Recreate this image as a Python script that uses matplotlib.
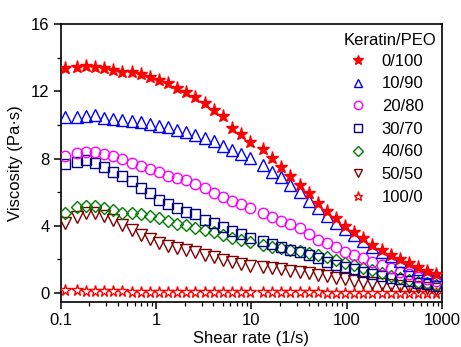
import matplotlib
matplotlib.use("Agg")
import matplotlib.pyplot as plt
from matplotlib.ticker import LogLocator, NullFormatter, MultipleLocator

plt.rcParams["font.family"] = ["Liberation Sans", "DejaVu Sans"]
plt.rcParams["font.size"] = 12

# shear rate (1/s)
shear_rate = [0.11, 0.147, 0.184, 0.229, 0.286, 0.356, 0.443, 0.553, 0.689, 0.86,
              1.07, 1.34, 1.66, 2.07, 2.59, 3.23, 4.02, 5.01, 6.24, 7.8, 9.71,
              13.3, 16.6, 20.7, 25.7, 32.1, 40.0, 49.8, 62.0, 77.3, 96.3,
              120, 150, 186, 232, 289, 361, 449, 560, 698, 869]

visc_0_100 = [13.37, 13.47, 13.51, 13.45, 13.37, 13.27, 13.17, 13.15, 13.04, 12.84,
              12.68, 12.48, 12.22, 11.98, 11.64, 11.31, 10.89, 10.51, 9.80, 9.45, 8.99,
              8.56, 8.05, 7.52, 6.99, 6.43, 5.93, 5.38, 4.90, 4.45, 4.01,
              3.61, 3.26, 2.86, 2.56, 2.26, 2.02, 1.77, 1.53, 1.33, 1.13]
visc_10_90 = [10.46, 10.49, 10.54, 10.56, 10.40, 10.34, 10.30, 10.26, 10.16, 10.06,
              9.94, 9.90, 9.70, 9.60, 9.40, 9.24, 9.07, 8.77, 8.51, 8.26, 8.02,
              7.62, 7.22, 6.92, 6.43, 6.03, 5.48, 5.04, 4.58, 4.15, 3.80,
              3.45, 3.10, 2.75, 2.45, 2.18, 1.93, 1.68, 1.45, 1.25, 1.05]
visc_20_80 = [8.15, 8.35, 8.41, 8.39, 8.27, 8.15, 7.96, 7.76, 7.58, 7.36,
              7.18, 6.98, 6.86, 6.73, 6.49, 6.23, 5.97, 5.73, 5.49, 5.28, 5.08,
              4.78, 4.54, 4.30, 4.09, 3.85, 3.50, 3.15, 2.96, 2.72, 2.46,
              2.26, 2.07, 1.86, 1.67, 1.47, 1.27, 1.11, 0.97, 0.83, 0.71]
visc_30_70 = [7.66, 7.78, 7.92, 7.72, 7.52, 7.22, 6.98, 6.67, 6.23, 5.93,
              5.54, 5.28, 5.04, 4.84, 4.68, 4.35, 4.15, 3.91, 3.71, 3.49, 3.29,
              3.11, 2.92, 2.76, 2.56, 2.45, 2.24, 2.07, 1.86, 1.67, 1.53,
              1.41, 1.27, 1.13, 1.01, 0.91, 0.82, 0.71, 0.61, 0.54, 0.43]
visc_40_60 = [4.78, 5.10, 5.20, 5.18, 5.04, 4.94, 4.78, 4.74, 4.68, 4.60,
              4.45, 4.29, 4.11, 4.05, 3.85, 3.75, 3.65, 3.45, 3.26, 3.15, 3.05,
              2.86, 2.72, 2.66, 2.56, 2.50, 2.41, 2.26, 2.13, 1.96, 1.80,
              1.67, 1.51, 1.37, 1.17, 1.04, 0.92, 0.80, 0.68, 0.57, 0.48]
visc_50_50 = [4.15, 4.54, 4.74, 4.78, 4.58, 4.35, 4.05, 3.75, 3.45, 3.20,
              2.99, 2.80, 2.70, 2.58, 2.46, 2.26, 2.13, 1.96, 1.83, 1.73, 1.63,
              1.57, 1.47, 1.41, 1.31, 1.27, 1.17, 1.10, 1.01, 0.91, 0.83,
              0.74, 0.67, 0.60, 0.54, 0.48, 0.43, 0.38, 0.34, 0.30, 0.26]
visc_100_0 = [0.16, 0.20, 0.15, 0.12, 0.11, 0.10, 0.10, 0.09, 0.09, 0.08,
              0.08, 0.08, 0.07, 0.07, 0.07, 0.06, 0.06, 0.06, 0.06, 0.05, 0.05,
              0.05, 0.05, 0.04, 0.04, 0.04, 0.04, 0.04, 0.03, 0.03, 0.03,
              0.03, 0.03, 0.02, 0.02, 0.02, 0.02, 0.02, 0.02, 0.02, 0.02]

labels = ["0/100", "10/90", "20/80", "30/70", "40/60", "50/50", "100/0"]
series = [visc_0_100, visc_10_90, visc_20_80, visc_30_70, visc_40_60, visc_50_50, visc_100_0]
# (marker, colour, filled, size)
styles = [("*", "#ff0000", True, 9.5),
          ("^", "#0000ff", False, 8),
          ("o", "#ff00ff", False, 7.5),
          ("s", "#000080", False, 6.5),
          ("D", "#008000", False, 6.5),
          ("v", "#800000", False, 8),
          ("*", "#ff0000", False, 8.5)]

fig = plt.figure(figsize=(4.61, 3.47), dpi=100)
ax = fig.add_axes([0.1317, 0.1288, 0.8271, 0.802])

n = len(series)
for i, (lab, y, (m, c, filled, ms)) in enumerate(zip(labels, series, styles)):
    ax.plot(shear_rate, y, linestyle="none", marker=m, markersize=ms,
            markerfacecolor=c if filled else "none", markeredgecolor=c,
            markeredgewidth=1.0, label=lab, zorder=10 + n - i)

ax.set_xscale("log")
ax.set_xlim(0.1, 1000)
ax.set_ylim(-0.55, 16)
ax.set_xticks([0.1, 1, 10, 100, 1000])
ax.set_xticklabels(["0.1", "1", "10", "100", "1000"])
ax.xaxis.set_minor_locator(LogLocator(base=10, subs=range(2, 10)))
ax.xaxis.set_minor_formatter(NullFormatter())
ax.yaxis.set_major_locator(MultipleLocator(4))
ax.yaxis.set_minor_locator(MultipleLocator(2))
ax.tick_params(which="major", direction="out", length=5, width=1.1, labelsize=12, pad=3)
ax.tick_params(which="minor", direction="out", length=3, width=0.9)
for sp in ax.spines.values():
    sp.set_linewidth(1.2)

ax.set_xlabel("Shear rate (1/s)", fontsize=12, labelpad=2)
ax.set_ylabel("Viscosity (Pa·s)", fontsize=12, labelpad=6)

# legend title drawn on its own so it can sit right-aligned above the entries
ax.text(0.984, 0.9425, "Keratin/PEO", transform=ax.transAxes, ha="right", va="center",
        fontsize=12)
ax.legend(loc="upper left", bbox_to_anchor=(0.759, 0.893), frameon=False, fontsize=12,
          handlelength=1.0, handletextpad=0.9, labelspacing=0.46, borderpad=0.0,
          borderaxespad=0.0, markerscale=0.8)

fig.savefig("out.png", dpi=100)
